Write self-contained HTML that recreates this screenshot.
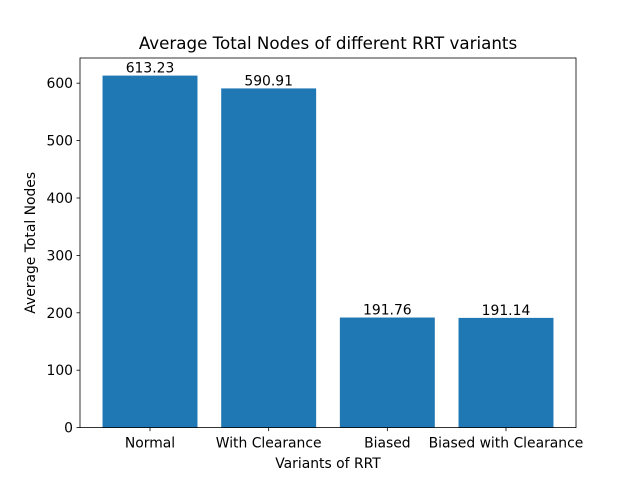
<!DOCTYPE html>
<html><head><meta charset="utf-8"><style>
body{margin:0;background:#fff;}
svg text{font-family:"DejaVu Sans","Liberation Sans",sans-serif;}
</style></head><body>
<svg id="chart" width="640" height="480" xmlns="http://www.w3.org/2000/svg">
<rect width="640" height="480" fill="#fff"/>
<text x="328" y="49" font-size="16.7" text-anchor="middle">Average Total Nodes of different RRT variants</text>
<g id="bars"></g>
<g id="yticks"></g>
<g id="xticks"></g>
<rect x="80" y="58" width="496" height="369.6" fill="none" stroke="#000" stroke-width="0.8"/>
<text x="328" y="468" font-size="13.9" text-anchor="middle">Variants of RRT</text>
<text transform="translate(35,242.8) rotate(-90)" font-size="13.9" text-anchor="middle">Average Total Nodes</text>
</svg>
<script>
const categories=["Normal","With Clearance","Biased","Biased with Clearance"];
const values=[613.23,590.91,191.76,191.14];
const valueLabels=["613.23","590.91","191.76","191.14"];
const yTicks=[0,100,200,300,400,500,600];

const NS="http://www.w3.org/2000/svg";
const L=80,R=576,T=58,B=427.6;
const ymax=Math.max(...values)*1.05;
const xmin=-0.4-0.05*(categories.length-1+0.8), xmax=categories.length-1+0.4+0.05*(categories.length-1+0.8);
const xs=v=>L+(v-xmin)/(xmax-xmin)*(R-L);
const ys=v=>B-v/ymax*(B-T);
function mk(t,a,p){const e=document.createElementNS(NS,t);for(const k in a)e.setAttribute(k,a[k]);p.appendChild(e);return e;}
const gb=document.getElementById('bars'),gy=document.getElementById('yticks'),gx=document.getElementById('xticks');
values.forEach((v,i)=>{
  const x0=xs(i-0.4),x1=xs(i+0.4);
  const r=mk('rect',{x:x0,y:ys(v),width:x1-x0,height:B-ys(v),fill:'#1f77b4'},gb);
  
  
  const t=mk('text',{x:xs(i),y:ys(v)-3,'font-size':13.9,'text-anchor':'middle'},gb);
  t.textContent=valueLabels[i];
  
  
  const tk=mk('line',{x1:xs(i),x2:xs(i),y1:B,y2:B+3.5,stroke:'#000','stroke-width':0.8},gx);
  
  
  const tl=mk('text',{x:xs(i),y:B+20,'font-size':13.9,'text-anchor':'middle'},gx);
  tl.textContent=categories[i];
  
  
});
yTicks.forEach(v=>{
  const tk=mk('line',{x1:L-3.5,x2:L,y1:ys(v),y2:ys(v),stroke:'#000','stroke-width':0.8},gy);
  
  
  const tl=mk('text',{x:L-7,y:ys(v)+5,'font-size':13.9,'text-anchor':'end'},gy);
  tl.textContent=v;
  
  
});
</script>
</body></html>
